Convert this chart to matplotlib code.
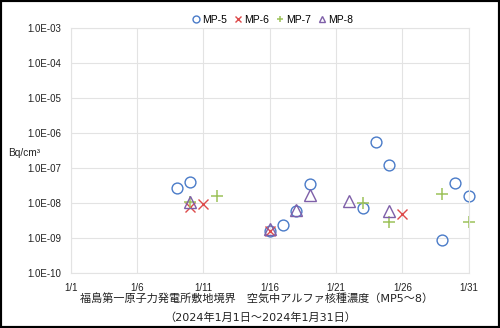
import matplotlib
matplotlib.use("Agg")
import matplotlib.pyplot as plt
from matplotlib.patches import Rectangle
import datetime as dt

# day of January 2024 -> concentration [Bq/cm3]
mp5_days = [9, 10, 16, 17, 18, 19, 23, 24, 25, 29, 30, 31]
mp5_vals = [2.8e-8, 4.1e-8, 1.6e-9, 2.4e-9, 6.2e-9, 3.6e-8,
            7.2e-9, 5.5e-7, 1.24e-7, 8.9e-10, 3.7e-8, 1.6e-8]
mp6_days = [10, 11, 16, 26]
mp6_vals = [8.0e-9, 9.4e-9, 1.6e-9, 4.9e-9]
mp7_days = [10, 12, 23, 25, 29, 31]
mp7_vals = [1.1e-8, 1.65e-8, 1.0e-8, 3.0e-9, 1.85e-8, 3.0e-9]
mp8_days = [10, 16, 18, 19, 22, 25]
mp8_vals = [1.1e-8, 1.9e-9, 6.4e-9, 1.7e-8, 1.2e-8, 6.2e-9]

ytick_vals = [1e-10, 1e-9, 1e-8, 1e-7, 1e-6, 1e-5, 1e-4, 1e-3]
ytick_labels = ["1.0E-10", "1.0E-09", "1.0E-08", "1.0E-07",
                "1.0E-06", "1.0E-05", "1.0E-04", "1.0E-03"]
xtick_days = [1, 6, 11, 16, 21, 26, 31]

title1 = "福島第一原子力発電所敷地境界　空気中アルファ核種濃度（MP5～8）"
title2 = "（2024年1月1日～2024年1月31日）"


def day(d):
    return dt.date(2024, 1, d)


plt.rcParams['font.family'] = ['Liberation Sans', 'Noto Sans CJK JP', 'DejaVu Sans']

fig = plt.figure(figsize=(5.0, 3.28), dpi=100)
ax = fig.add_axes([0.1414, 0.1668, 0.796, 0.7469])

series = [
    ("MP-5", mp5_days, mp5_vals, dict(marker='o', mfc='none', mec='#4A7BC8', ms=7.8, mew=1.0)),
    ("MP-6", mp6_days, mp6_vals, dict(marker='x', mfc='none', mec='#DD4B4B', ms=7.5, mew=1.0)),
    ("MP-7", mp7_days, mp7_vals, dict(marker='+', mfc='none', mec='#9DC25A', ms=8.5, mew=1.1)),
    ("MP-8", mp8_days, mp8_vals, dict(marker='^', mfc='none', mec='#7E5FA8', ms=8.0, mew=1.0)),
]
for name, days, vals, style in series:
    ax.plot([day(d) for d in days], vals, ls='none', label=name, clip_on=False, **style)

ax.set_yscale('log')
ax.set_ylim(1e-10, 1e-3)
ax.set_xlim(day(1), day(31))
ax.set_yticks(ytick_vals)
ax.set_yticklabels(ytick_labels)
ax.yaxis.set_minor_locator(matplotlib.ticker.NullLocator())
ax.set_xticks([day(d) for d in xtick_days])
ax.set_xticklabels(["1/%d" % d for d in xtick_days])

ax.tick_params(length=0, labelsize=7, colors='#222222')
ax.tick_params(axis='y', pad=7)
ax.tick_params(axis='x', pad=7)
ax.grid(True, color='#e3e3e3', lw=0.8)
ax.set_axisbelow(True)
for s in ax.spines.values():
    s.set_color('#e3e3e3')
    s.set_linewidth(0.8)

fig.text(0.017, 1 - 153 / 328, "Bq/cm³", fontsize=7.3, va='center', ha='left', color='#222222')

# smaller markers for the legend row
leg_handles = []
for name, days, vals, style in series:
    st = dict(style)
    st['ms'] = 5
    lh, = ax.plot([], [], ls='none', label=name, **st)
    leg_handles.append(lh)
fig.legend(handles=leg_handles, loc='center', bbox_to_anchor=(272 / 500, 1 - 20 / 328),
           ncol=4, frameon=False, fontsize=7.5, handletextpad=0.1,
           columnspacing=0.55, handlelength=1.0)

title_font = ['DejaVu Sans', 'Noto Sans CJK JP']
fig.text(257 / 500, 1 - 298.5 / 328, title1, fontsize=8, ha='center', va='center',
         family=title_font, color='#222222')
fig.text(260 / 500, 1 - 317.5 / 328, title2, fontsize=8, ha='center', va='center',
         family=title_font, color='#222222')

fig.patches.append(Rectangle((0, 0), 1, 1, transform=fig.transFigure, fill=False,
                             edgecolor='black', linewidth=3.0))

fig.savefig("out.png", dpi=100)
